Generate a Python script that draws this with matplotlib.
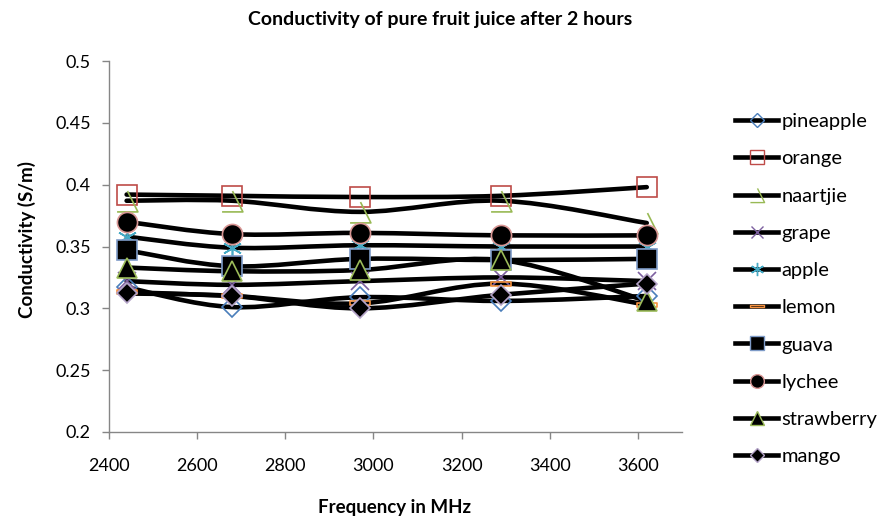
import numpy as np
import matplotlib
matplotlib.use("Agg")
import matplotlib.pyplot as plt
from matplotlib.path import Path
from matplotlib.patches import PathPatch
from matplotlib.lines import Line2D

plt.rcParams['font.family'] = ['Lato', 'DejaVu Sans']

# data
freq = [2440, 2680, 2970, 3290, 3620]
pineapple = [0.317, 0.301, 0.309, 0.306, 0.310]
orange = [0.392, 0.391, 0.390, 0.391, 0.398]
naartjie = [0.387, 0.387, 0.378, 0.387, 0.369]
grape = [0.322, 0.319, 0.322, 0.325, 0.322]
apple = [0.358, 0.349, 0.351, 0.350, 0.350]
lemon = [0.313, 0.310, 0.304, 0.320, 0.303]
guava = [0.347, 0.334, 0.340, 0.339, 0.340]
lychee = [0.370, 0.360, 0.361, 0.359, 0.359]
strawberry = [0.333, 0.330, 0.331, 0.339, 0.306]
mango = [0.312, 0.310, 0.300, 0.311, 0.320]

names = ["pineapple", "orange", "naartjie", "grape", "apple",
         "lemon", "guava", "lychee", "strawberry", "mango"]
series = [pineapple, orange, naartjie, grape, apple,
          lemon, guava, lychee, strawberry, mango]

xticks = [2400, 2600, 2800, 3000, 3200, 3400, 3600]
yticks = [0.2, 0.25, 0.3, 0.35, 0.4, 0.45, 0.5]
ylabels = ["0.2", "0.25", "0.3", "0.35", "0.4", "0.45", "0.5"]

# odd excel markers
tick_mark = Path([(0, 1), (1, -1), (-1, -1)],
                 [Path.MOVETO, Path.LINETO, Path.LINETO])
dash_mark = Path([(-1, -0.2), (1, -0.2), (1, 0.2), (-1, 0.2), (-1, -0.2)],
                 [Path.MOVETO, Path.LINETO, Path.LINETO, Path.LINETO, Path.CLOSEPOLY])

# (marker, size, face, edge)
styles = [
    ("D", 10, "none", "#4A7EBB"),
    ("s", 14, "none", "#BE4B48"),
    (tick_mark, 15, "none", "#98B954"),
    ("x", 13, "none", "#7D60A0"),
    ((6, 2, 0), 14, "none", "#46AAC5"),
    (dash_mark, 15, "none", "#F69240"),
    ("s", 14, "black", "#7E9BC8"),
    ("o", 14.5, "black", "#D99694"),
    ("^", 14, "black", "#9BBB59"),
    ("D", 10, "black", "#B3A2C7"),
]


def smooth_path(xs, ys):
    # catmull-rom style bezier like excel's smoothed line
    pts = list(zip(xs, ys))
    verts = [pts[0]]
    codes = [Path.MOVETO]
    n = len(pts)
    for i in range(n - 1):
        p0 = pts[max(i - 1, 0)]
        p1 = pts[i]
        p2 = pts[i + 1]
        p3 = pts[min(i + 2, n - 1)]
        c1 = (p1[0] + (p2[0] - p0[0]) / 6, p1[1] + (p2[1] - p0[1]) / 6)
        c2 = (p2[0] - (p3[0] - p1[0]) / 6, p2[1] - (p3[1] - p1[1]) / 6)
        verts += [c1, c2, p2]
        codes += [Path.CURVE4] * 3
    return Path(verts, codes)


fig = plt.figure(figsize=(8.88, 5.21), dpi=100)
ax = fig.add_axes([109 / 888, 1 - 432 / 521, (682 - 109) / 888, (432 - 61) / 521])

for i, vals in enumerate(series):
    patch = PathPatch(smooth_path(freq, vals), fill=False, edgecolor="black",
                      lw=3.3, capstyle="round", joinstyle="round", zorder=2)
    ax.add_patch(patch)

for i, vals in enumerate(series):
    m, ms, fc, ec = styles[i]
    ax.plot(freq, vals, linestyle="none", marker=m, markersize=ms,
            markerfacecolor=fc, markeredgecolor=ec, markeredgewidth=1.2, zorder=3 + i)

ax.set_xlim(2400, 3700)
ax.set_ylim(0.2, 0.5)
ax.set_xticks(xticks)
ax.set_yticks(yticks)
ax.set_yticklabels(ylabels)
for s in ["top", "right"]:
    ax.spines[s].set_visible(False)
for s in ["left", "bottom"]:
    ax.spines[s].set_color("#868686")
    ax.spines[s].set_linewidth(1.0)
ax.tick_params(axis="both", colors="#868686", length=5, width=1.0, labelsize=13,
               labelcolor="black")
ax.tick_params(axis="y", pad=8)
ax.tick_params(axis="x", pad=14)

fig.text(440 / 888, 1 - 20 / 521, "Conductivity of pure fruit juice after 2 hours",
         ha="center", va="center", fontsize=14, fontweight="bold")
fig.text(395 / 888, 1 - 508 / 521, "Frequency in MHz", ha="center", va="center",
         fontsize=13.5, fontweight="bold")
fig.text(27 / 888, 1 - 240 / 521, "Conductivity (S/m)", ha="center", va="center",
         rotation=90, fontsize=13.5, fontweight="bold")

handles = []
for i in range(len(names)):
    m, ms, fc, ec = styles[i]
    handles.append(Line2D([], [], color="black", lw=3.3, marker=m, markersize=ms * 0.68,
                          markerfacecolor=fc, markeredgecolor=ec, markeredgewidth=1.0))
fig.legend(handles, names, loc="upper left", bbox_to_anchor=(735 / 888, 1 - 113 / 521),
           frameon=False, fontsize=14.5, handlelength=2.15, handletextpad=0.15,
           labelspacing=1.0, borderpad=0, borderaxespad=0)

fig.savefig("out.png", dpi=100)
